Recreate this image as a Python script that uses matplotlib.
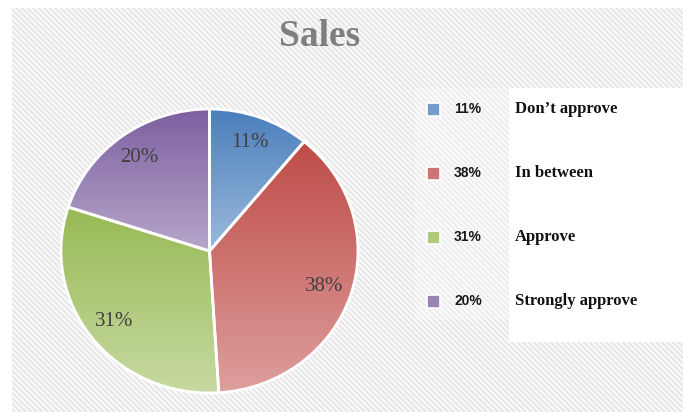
import numpy as np
import matplotlib
matplotlib.use('Agg')
import matplotlib.pyplot as plt
from matplotlib.patches import Rectangle
from matplotlib.colors import LinearSegmentedColormap

# ---- data ----
categories = ["Don\u2019t approve", "In between", "Approve", "Strongly approve"]
values = [11, 38, 31, 20]
pct_labels = ["11%", "38%", "31%", "20%"]
title = "Sales"

# ---- styles ----
top_colors = ['#4a7ebb', '#be4b48', '#98b954', '#7d5fa0']
bottom_colors = ['#9cbadc', '#de9f9d', '#c7daa2', '#b6a6ca']

W, H = 683, 412
fig = plt.figure(figsize=(W / 100, H / 100), dpi=100)
fig.patch.set_facecolor('white')


def fx(px):
    return px / W


def fy(py):
    return 1 - py / H


# textured background
bg = Rectangle((fx(12), 0), 1 - fx(12), fy(8), transform=fig.transFigure,
               facecolor='#e8e8e8', edgecolor='white', hatch='\\\\\\\\\\\\',
               linewidth=0, zorder=-3)
fig.patches.append(bg)
# lighter band behind legend markers
band = Rectangle((fx(415), fy(320)), fx(509) - fx(415), (320 - 88) / H,
                 transform=fig.transFigure, facecolor='white', alpha=0.3,
                 linewidth=0, zorder=-2.5)
fig.patches.append(band)
# white legend panel
panel = Rectangle((fx(509), fy(342)), 1 - fx(509), (342 - 88) / H,
                  transform=fig.transFigure, facecolor='white',
                  linewidth=0, zorder=-2)
fig.patches.append(panel)

# pie axes (slightly elliptical as in the reference)
pad = 1.05
cx, cy, rx, ry = 209.5, 251, 148.5, 142
ax = fig.add_axes([fx(cx - rx * pad), fy(cy + ry * pad),
                   2 * rx * pad / W, 2 * ry * pad / H])
ax.set_zorder(1)
ax.set_facecolor('none')
wedges, texts, autotexts = ax.pie(
    values, startangle=90, counterclock=False, radius=1,
    autopct=lambda p: f"{p:.0f}%", pctdistance=0.81,
    wedgeprops=dict(edgecolor='white', linewidth=2, facecolor='none'),
    textprops=dict(fontfamily='Liberation Serif', fontsize=15, color='#404040'))

grad = np.linspace(0, 1, 256).reshape(-1, 1)
for w, tc, bc in zip(wedges, top_colors, bottom_colors):
    v = w.get_path().vertices
    xmin, xmax = v[:, 0].min(), v[:, 0].max()
    ymin, ymax = v[:, 1].min(), v[:, 1].max()
    cmap = LinearSegmentedColormap.from_list('g', [bc, tc])
    im = ax.imshow(grad, cmap=cmap, extent=[xmin, xmax, ymin, ymax],
                   origin='lower', aspect='auto', zorder=1,
                   interpolation='bilinear')
    im.set_clip_path(w)
    w.set_facecolor('none')
    w.set_zorder(2)
for t in autotexts:
    t.set_zorder(3)

ax.set_aspect('auto')
ax.set_xlim(-pad, pad)
ax.set_ylim(-pad, pad)
ax.axis('off')

# title
fig.text(fx(320), fy(37), title, ha='center', va='center',
         fontfamily='Liberation Serif', fontweight='bold', fontsize=27,
         color='#7f7f7f')

# legend
for i, (cat, pl, tc, bc) in enumerate(zip(categories, pct_labels,
                                            top_colors, bottom_colors)):
    yc = 109 + i * 64
    mix = tuple((np.array(matplotlib.colors.to_rgb(tc)) +
                 np.array(matplotlib.colors.to_rgb(bc))) / 2)
    fig.patches.append(Rectangle((fx(427), fy(yc + 6.5)), 13 / W, 13 / H,
                                 transform=fig.transFigure, facecolor=mix,
                                 edgecolor='white', linewidth=1.2, zorder=2))
    fig.text(fx(468), fy(yc), pl, ha='center', va='center',
             fontfamily='Liberation Sans', fontweight='bold', fontsize=10,
             color='#1a1a1a')
    fig.text(fx(515), fy(yc), cat, ha='left', va='center',
             fontfamily='Liberation Serif', fontweight='bold', fontsize=12,
             color='#111111')

fig.savefig('out.png', dpi=100)
